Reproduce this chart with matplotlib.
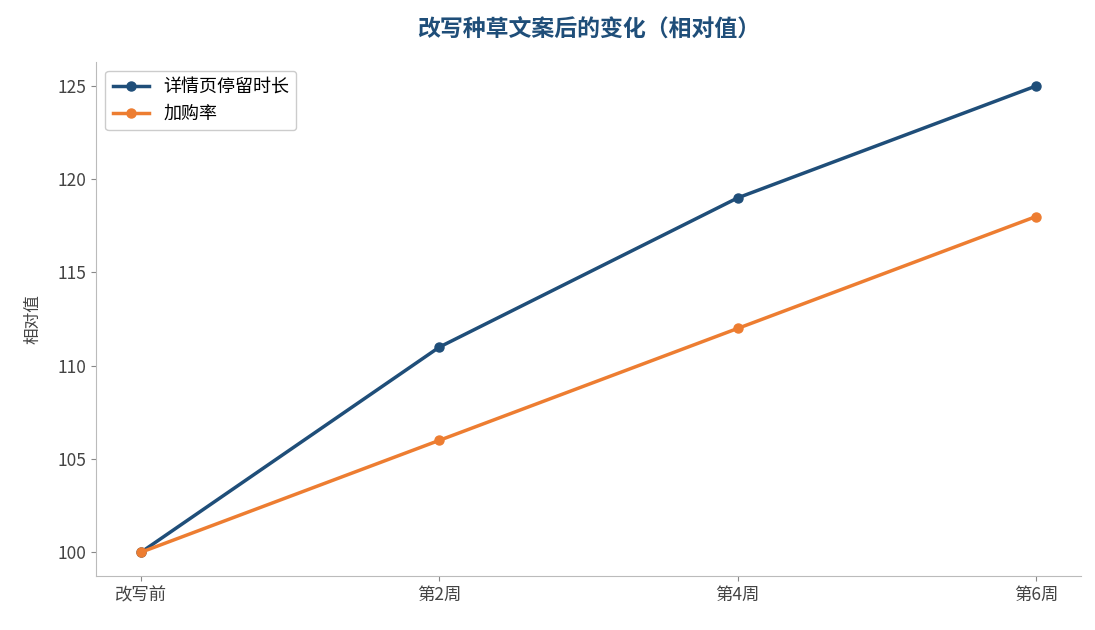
import matplotlib
matplotlib.use("Agg")
import matplotlib.pyplot as plt

plt.rcParams['font.family'] = ['Noto Sans CJK SC', 'DejaVu Sans']

categories = ["改写前", "第2周", "第4周", "第6周"]
dwell = [100, 111, 119, 125]
cart = [100, 106, 112, 118]

fig = plt.figure(figsize=(10.95, 6.3), dpi=100)
ax = fig.add_axes([0.088, 0.085, 0.899, 0.817])
x = range(len(categories))
ax.plot(x, dwell, color="#1f4e79", lw=2.5, marker="o", ms=6.5, label="详情页停留时长")
ax.plot(x, cart, color="#ed7d31", lw=2.5, marker="o", ms=6.5, label="加购率")
ax.set_xticks(list(x))
ax.set_xticklabels(categories)
ax.set_xlim(-0.15, 3.15)
ax.set_ylim(98.7, 126.3)
ax.set_yticks([100, 105, 110, 115, 120, 125])
ax.set_ylabel("相对值", fontsize=12, color="#444444", labelpad=12)
ax.set_title("改写种草文案后的变化（相对值）", fontsize=16.5, fontweight="bold", color="#1f4e79", pad=18)
for s in ["top", "right"]:
    ax.spines[s].set_visible(False)
for s in ["left", "bottom"]:
    ax.spines[s].set_color("#bbbbbb")
ax.tick_params(colors="#444444", labelsize=12.5)
ax.tick_params(axis="both", color="#888888")
ax.legend(loc="upper left", fontsize=13, framealpha=1, edgecolor="#cccccc")
fig.savefig("out.png", dpi=100)
